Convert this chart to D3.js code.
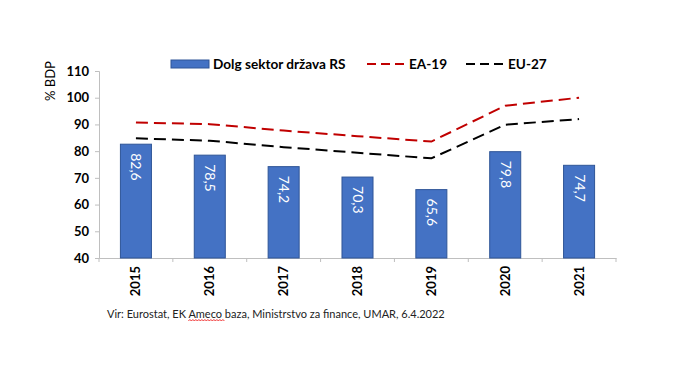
<!DOCTYPE html>
<html><head><meta charset="utf-8">
<script src="https://cdn.jsdelivr.net/npm/d3@7"></script>
<style>body{margin:0;background:#fff}svg{display:block;font-family:Lato,"Open Sans",sans-serif}</style>
</head><body><svg id="c" width="680" height="380"></svg>
<script>
const years = ["2015","2016","2017","2018","2019","2020","2021"];
const dolgRS = [82.6,78.5,74.2,70.3,65.6,79.8,74.7];
const ea19 = [90.7,90.1,87.7,85.6,83.6,97.0,100.0];
const eu27 = [84.8,83.9,81.5,79.4,77.3,89.9,92.0];
const yTicks = [40,50,60,70,80,90,100,110];
const fmt = v => v.toFixed(1).replace(".", ",");

const svg = d3.select("#c");
const m = {l:99, r:616, t:71, b:258};
const x = d3.scaleBand().domain(years).range([m.l, m.r]).paddingInner(0.58).paddingOuter(0.29);
const xb = d3.scaleBand().domain(years).range([m.l, m.r]);
const y = d3.scaleLinear().domain([40,110]).range([m.b, m.t]);

// y axis
const ya = svg.append("g").attr("transform",`translate(${m.l},0)`)
  .call(d3.axisLeft(y).tickValues(yTicks).tickSize(4).tickPadding(6));
ya.select(".domain").attr("stroke","#bfbfbf");
ya.selectAll(".tick line").attr("stroke","#bfbfbf");
ya.selectAll(".tick text").attr("font-size",13).attr("font-weight","bold").attr("fill","#000").attr("font-family","Lato, sans-serif");

// x axis
const xa = svg.append("g").attr("transform",`translate(0,${m.b})`)
  .call(d3.axisBottom(xb).tickSize(0).tickFormat(""));
xa.select(".domain").attr("stroke","#bfbfbf");
xa.selectAll(".tick").remove();
const bounds = years.map(d => xb(d)).concat([m.r]);
svg.append("g").selectAll("line").data(bounds).join("line")
  .attr("x1", d=>d).attr("x2", d=>d).attr("y1", m.b).attr("y2", m.b+4).attr("stroke","#bfbfbf");
svg.append("g").selectAll("text").data(years).join("text")
  .attr("transform", d=>`translate(${xb(d)+xb.bandwidth()/2+4.5},${m.b+8}) rotate(-90)`)
  .attr("text-anchor","end").attr("font-size",13).attr("font-weight","bold").text(d=>d);

// bars
svg.append("g").selectAll("rect").data(years).join("rect")
  .attr("x", d=>x(d)).attr("width", x.bandwidth())
  .attr("y", (d,i)=>y(dolgRS[i])).attr("height", (d,i)=>y(40)-y(dolgRS[i]))
  .attr("fill","#4472c4").attr("stroke","#2f5597").attr("stroke-width",1);
svg.append("g").selectAll("text").data(years).join("text")
  .attr("transform", (d,i)=>`translate(${x(d)+x.bandwidth()/2-4.5},${y(dolgRS[i])+9}) rotate(90)`)
  .attr("fill","#fff").attr("font-size",14).text((d,i)=>fmt(dolgRS[i]));

// lines
const cx = d => xb(d)+xb.bandwidth()/2;
const line = d3.line().x((v,i)=>cx(years[i])).y(v=>y(v));
svg.append("path").datum(ea19).attr("d",line).attr("fill","none")
  .attr("stroke","#c00000").attr("stroke-width",2).attr("stroke-dasharray","12,6");
svg.append("path").datum(eu27).attr("d",line).attr("fill","none")
  .attr("stroke","#000").attr("stroke-width",2).attr("stroke-dasharray","12,6");

// y label
svg.append("text").attr("transform","translate(55,81) rotate(-90)")
  .attr("text-anchor","middle").attr("font-size",13).text("% BDP");

// legend
const lg = svg.append("g");
lg.append("rect").attr("x",171).attr("y",60).attr("width",38).attr("height",8)
  .attr("fill","#4472c4").attr("stroke","#2f5597");
lg.append("text").attr("x",213).attr("y",69).attr("font-size",13.6).attr("font-weight","bold").text("Dolg sektor država RS");
lg.append("line").attr("x1",367).attr("x2",405).attr("y1",64).attr("y2",64)
  .attr("stroke","#c00000").attr("stroke-width",2).attr("stroke-dasharray","9,5");
lg.append("text").attr("x",409).attr("y",69).attr("font-size",13.6).attr("font-weight","bold").text("EA-19");
lg.append("line").attr("x1",466).attr("x2",505).attr("y1",64).attr("y2",64)
  .attr("stroke","#000").attr("stroke-width",2).attr("stroke-dasharray","9,5");
lg.append("text").attr("x",508).attr("y",69).attr("font-size",13.6).attr("font-weight","bold").text("EU-27");

// source
const src = svg.append("text").attr("x",107).attr("y",318).attr("font-size",11).attr("fill","#222");
src.append("tspan").text("Vir: Eurostat, EK ");
src.append("tspan").attr("id","am").text("Ameco");
src.append("tspan").text(" baza, Ministrstvo za finance, UMAR, 6.4.2022");
const bb = document.getElementById("am").getBBox();
let p = `M${bb.x},${bb.y+bb.height+1}`;
for (let xx=bb.x; xx<bb.x+bb.width; xx+=3) p += ` l1.5,-1.5 l1.5,1.5`;
svg.append("path").attr("d",p).attr("fill","none").attr("stroke","#e00").attr("stroke-width",0.8);
</script></body></html>
